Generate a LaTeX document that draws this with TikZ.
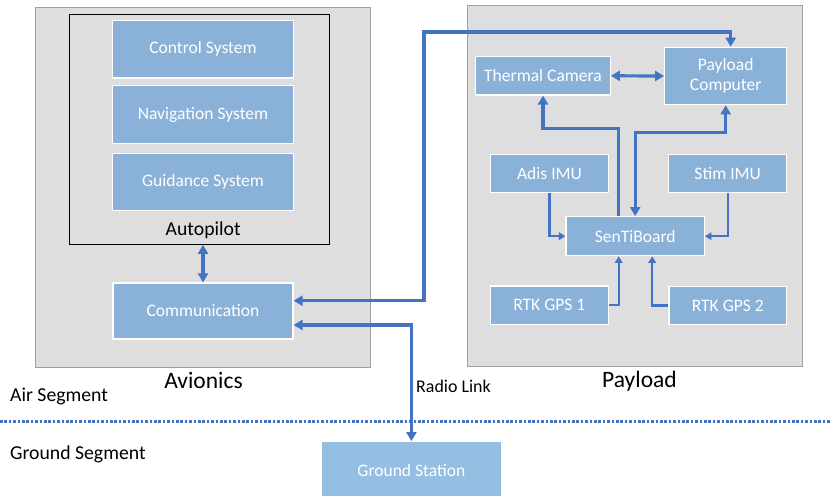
\documentclass[tikz,border=0pt]{standalone}
\usepackage{fontspec}
\setmainfont{Carlito}
\usepackage{tikz,xcolor}
\usetikzlibrary{arrows.meta}
\definecolor{boxblue}{HTML}{8AB1D8}
\definecolor{gsblue}{HTML}{95BEE3}
\definecolor{linkblue}{HTML}{4472C4}
\definecolor{panelgray}{HTML}{DEDEDE}
\definecolor{panelline}{HTML}{A0A0A0}

\begin{document}
\begin{tikzpicture}[x=1bp,y=-1bp]

    \useasboundingbox (0,0) rectangle (831,496);

    \tikzstyle{panel}=[draw=panelline,fill=panelgray,line width=1bp,inner sep=0pt]
    \tikzstyle{box}=[draw=white,fill=boxblue,line width=1.2bp,text=white,inner sep=0pt,font=\fontsize{17.6}{20}\selectfont,align=center]
    \tikzstyle{bus}=[draw=linkblue,line width=3.2bp,>={Triangle[length=9bp,width=10bp]}]
    \tikzstyle{wire}=[draw=linkblue,line width=2.2bp,>={Triangle[length=6.5bp,width=7.5bp]}]

    % panels
    \node[panel,minimum width=335bp,minimum height=360.4bp](avionics) at (203.2,187.5){};
    \node[panel,minimum width=335.2bp,minimum height=360.7bp](payload) at (635.1,185.7){};
    \node[draw=black,line width=1bp,minimum width=260.7bp,minimum height=230.3bp,inner sep=0pt](ap) at (199.4,129.2){};

    % avionics
    \node[box,minimum width=180.6bp,minimum height=57.3bp](ctrl) at (203,49.3){Control System};
    \node[box,minimum width=180.6bp,minimum height=57.6bp](nav) at (203,114.5){Navigation System};
    \node[box,minimum width=180.6bp,minimum height=57.4bp](guid) at (203,182){Guidance System};
    \node[box,minimum width=180bp,minimum height=56bp](comm) at (203,311){Communication};

    % payload
    \node[box,minimum width=134.6bp,minimum height=38.3bp](therm) at (543,75.8){Thermal Camera};
    \node[box,minimum width=122bp,minimum height=57.4bp](pc) at (725.7,76){Payload\\Computer};
    \node[box,minimum width=117.6bp,minimum height=38.4bp](adis) at (549.5,173.5){Adis IMU};
    \node[box,minimum width=118bp,minimum height=38.4bp](stim) at (727.7,173.5){Stim IMU};
    \node[box,minimum width=138.3bp,minimum height=39bp](sent) at (635.2,236.2){SenTiBoard};
    \node[box,minimum width=117.6bp,minimum height=38.3bp](rtk1) at (549.3,305.2){RTK GPS 1};
    \node[box,minimum width=117.7bp,minimum height=38bp](rtk2) at (727.8,305.5){RTK GPS 2};

    % ground
    \node[box,draw=none,fill=gsblue,minimum width=179.3bp,minimum height=57bp](gs) at (411.4,470.2){Ground Station};

    % labels
    \node[font=\fontsize{19.8}{23}\selectfont](aplabel) at (203.2,230.7){Autopilot};
    \node[font=\fontsize{23.6}{28}\selectfont](avlabel) at (203.5,380){Avionics};
    \node[font=\fontsize{23.6}{28}\selectfont](pllabel) at (639.5,381){Payload};
    \node[anchor=west,font=\fontsize{19.8}{23}\selectfont,inner sep=0pt](air) at (10,396){Air Segment};
    \node[anchor=west,font=\fontsize{19.8}{23}\selectfont,inner sep=0pt](ground) at (10,454){Ground Segment};
    \node[anchor=west,font=\fontsize{18}{21}\selectfont,inner sep=0pt](radio) at (416,386){Radio Link};

    % air / ground border
    \draw[linkblue,line width=2.6bp,dash pattern=on 2.6bp off 1.8bp] (0,421.7) -- (831,421.7);

    % links
    \draw[bus,<->] (comm.north) -- (comm.north |- ap.south);
    \draw[bus,<->] ([yshift=10.3bp]comm.east) -| (424,32) -| ([xshift=5bp]pc.north);
    \draw[bus,<->] ([yshift=-14bp]comm.east) -| (gs.north);
    \draw[bus,<->] (therm.east) -- (pc.west);
    \draw[bus,->] ([xshift=-17bp]sent.north) -- ++(0,-87.4) -| (therm.south);
    \draw[bus,<->] (sent.north) -- ++(0,-83.4) -| (pc.south);

    \draw[wire,->] (adis.south) |- (sent.west);
    \draw[wire,->] (stim.south) |- (sent.east);
    \draw[wire,->] (rtk1.east) -| ([xshift=-16.5bp]sent.south);
    \draw[wire,->] (rtk2.west) -| ([xshift=17bp]sent.south);

\end{tikzpicture}
\end{document}
